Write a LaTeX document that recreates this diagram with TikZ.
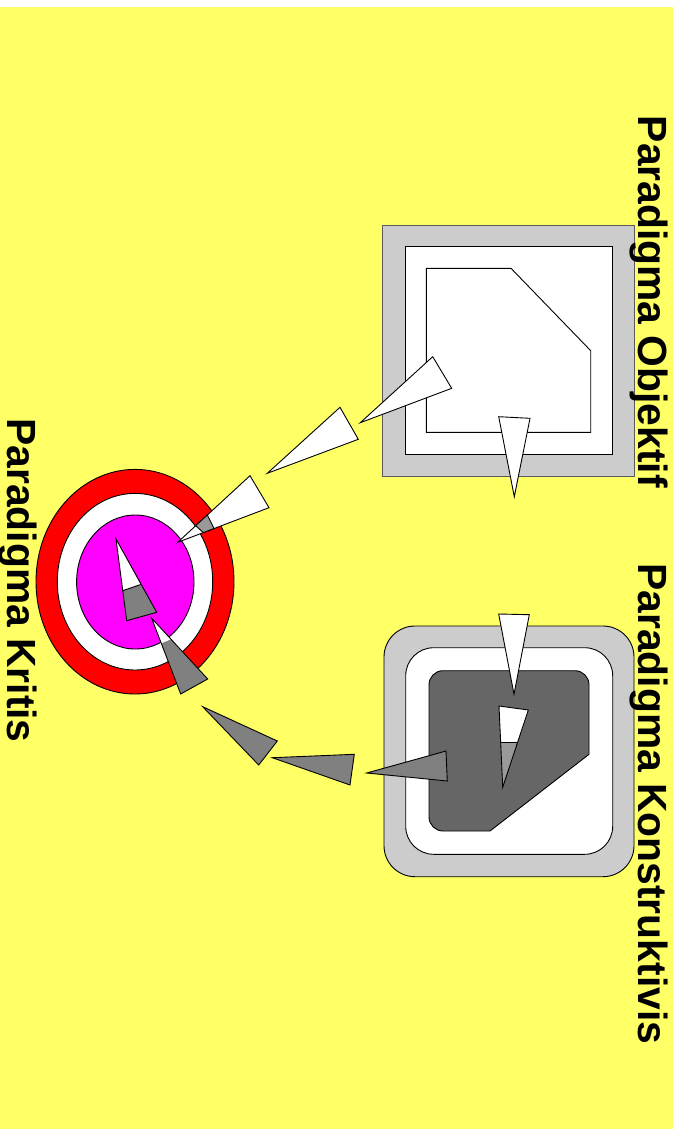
\documentclass[tikz,border=0pt]{standalone}
\usepackage{fontspec}
\setmainfont{Liberation Sans}
\definecolor{bgyellow}{RGB}{255,255,102}
\definecolor{lgray}{RGB}{204,204,204}
\definecolor{dgray}{RGB}{102,102,102}
\definecolor{mgray}{RGB}{128,128,128}
\definecolor{sgray}{RGB}{153,153,153}
\definecolor{tmagenta}{RGB}{255,0,255}
\definecolor{framegray}{RGB}{90,90,90}
\begin{document}
\begin{tikzpicture}[x=1pt,y=-1pt,line width=0.9pt,line join=miter,
  outline/.style={draw=black},
  frameline/.style={draw=framegray},
  wedgew/.style={draw=black,fill=white},
  wedgeg/.style={draw=black,fill=mgray},
  lbl/.style={rotate=-90,inner sep=0pt,anchor=base west,
    font=\fontsize{40.8}{48}\selectfont\bfseries}]
\useasboundingbox (0,0) rectangle (682,1129);
\fill[white] (0,0) rectangle (682,1129);
\fill[bgyellow] (0,7) rectangle (673,1129);

% Paradigma Objektif box
\draw[frameline,fill=lgray] (382.7,225) rectangle (634,476);
\draw[outline,fill=white] (405,246.7) rectangle (612.7,454);
\draw[outline,fill=white] (426.3,268.3) -- (511,268.3) -- (590.7,350.7) -- (590.7,432.3) -- (426.3,432.3) -- cycle;

% Paradigma Konstruktivis box
\draw[outline,fill=lgray,rounded corners=31pt] (384,626) rectangle (634,876.7);
\draw[outline,fill=white,rounded corners=28pt] (405.7,647.7) rectangle (612.7,854.3);
\draw[outline,fill=dgray] (490,831) -- (443,831) .. controls (435.3,831) and (429,824.7) .. (429,817)
  -- (429,684.7) .. controls (429,677) and (435.3,670.7) .. (443,670.7)
  -- (575,670.7) .. controls (582.7,670.7) and (589,677) .. (589,684.7)
  -- (589,754.3) -- cycle;

% Target (Paradigma Kritis)
\draw[outline,fill=red] (135,581.7) ellipse [x radius=99, y radius=112.3];
\draw[outline,fill=white] (135,581.7) ellipse [x radius=77.7, y radius=88.3];
\draw[outline,fill=tmagenta] (135.3,582) ellipse [x radius=58.7, y radius=67];

% wedges: objektif
\draw[wedgew] (432.7,356.7) -- (451.7,388.3) -- (360.3,422.7) -- cycle;
\draw[wedgew] (498.7,416.7) -- (530,418.3) -- (514.3,496.7) -- cycle;
\draw[wedgew] (340,407.3) -- (358.3,439.3) -- (267.3,473.3) -- cycle;
% wedge into target
\draw[wedgew] (250,475.7) -- (269,507.7) -- (177.7,542.3) -- cycle;
\draw[outline,fill=sgray] (195.7,525.7) -- (207.3,515) -- (214,528.5) -- (203.3,532.6) -- cycle;
% wedge inside target
\fill[white] (116,539) -- (140.7,584.5) -- (122.8,590.7) -- cycle;
\fill[mgray] (140.7,584.5) -- (156.7,612.3) -- (126.7,620.7) -- (122.8,590.7) -- cycle;
\draw[outline] (122.8,590.7) -- (140.7,584.5);
\draw[outline] (116,539) -- (156.7,612.3) -- (126.7,620.7) -- cycle;
% wedge leaving target
\fill[mgray] (151.7,618.3) -- (207.7,679) -- (180.7,694) -- cycle;
\fill[white] (151.7,618.3) -- (171,639.2) -- (161.3,643.3) -- cycle;
\draw[outline] (151.7,618.3) -- (207.7,679) -- (180.7,694) -- cycle;
% gray wedges
\draw[wedgeg] (202.7,706.7) -- (277.3,741) -- (258.7,765) -- cycle;
\draw[wedgeg] (272.3,757.7) -- (354.3,754.3) -- (350,785) -- cycle;
\draw[wedgeg] (446,751) -- (447.3,781) -- (366.7,773) -- cycle;
% wedges: konstruktivis
\draw[wedgew] (498.7,614) -- (529.3,614.7) -- (514,694.3) -- cycle;
\fill[white] (499,706) -- (528.3,710) -- (517.5,742.7) -- (500.7,742.7) -- cycle;
\fill[sgray] (500.7,742.7) -- (517.5,742.7) -- (502.7,787.3) -- cycle;
\draw[outline] (500.7,742.7) -- (517.5,742.7);
\draw[outline] (499,706) -- (528.3,710) -- (502.7,787.3) -- cycle;

% labels
\node[lbl] (objektif) at (638,115.5) {Paradigma Objektif};
\node[lbl] (konstruktivis) at (638,563) {Paradigma Konstruktivis};
\node[lbl] (kritis) at (8,418) {Paradigma Kritis};
\end{tikzpicture}
\end{document}
